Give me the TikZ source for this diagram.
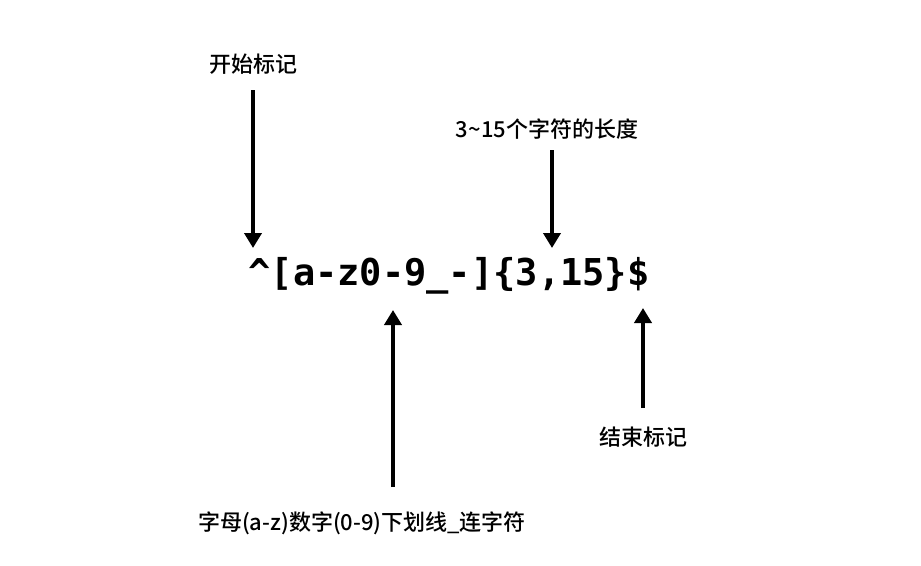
\documentclass[tikz,border=0pt]{standalone}
\usepackage{fontspec}
\setmainfont{Noto Sans CJK SC}[UprightFont=* Medium]
\newfontfamily\regexfont{DejaVu Sans Mono}
\usetikzlibrary{arrows.meta}
\tikzset{
	note/.style={font=\fontsize{22}{26}\selectfont, inner sep=0pt},
	pointer/.style={line width=4pt, -{Triangle[width=17pt,length=15pt]}}
}
\begin{document}
\begin{tikzpicture}[x=1pt, y=-1pt]
		\useasboundingbox (0,0) rectangle (921,565);
		% \draw[help lines, step=50] (0,0) grid (921,565);
		\node (re) at (449, 276) [inner sep=0pt, font=\fontsize{37}{40}\regexfont\bfseries] {\^{}[a-z0-9\_-]\{3,15\}\$};

		\node[note] (start) at (253, 64) [] {开始标记};
		\node[note] (len) at (547, 129) [] {3\textasciitilde15个字符的长度};
		\node[note] (chars) at (362, 523) [] {字母(a-z)数字(0-9)下划线\_连字符};
		\node[note] (end) at (643, 437) [] {结束标记};

		\coordinate (s1) at (253, 90);  \coordinate (s2) at (253, 248);
		\coordinate (l1) at (552, 150); \coordinate (l2) at (552, 248);
		\coordinate (c1) at (393, 487); \coordinate (c2) at (393, 310);
		\coordinate (e1) at (643, 408); \coordinate (e2) at (643, 308);

		\draw[pointer] (s1) -- (s2);
		\draw[pointer] (l1) -- (l2);
		\draw[pointer] (c1) -- (c2);
		\draw[pointer] (e1) -- (e2);
	\end{tikzpicture}
\end{document}
